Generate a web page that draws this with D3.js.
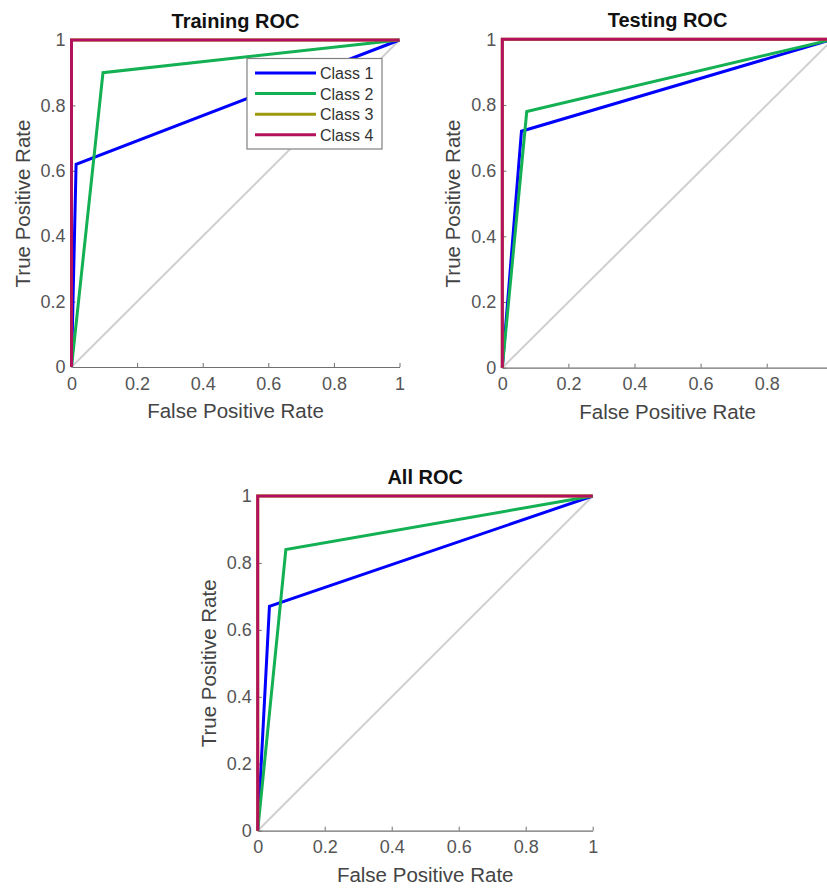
<!DOCTYPE html>
<html>
<head>
<meta charset="utf-8">
<script src="https://cdn.jsdelivr.net/npm/d3@7"></script>
<style>
  body { margin: 0; background: #fff; }
  svg { display: block; font-family: "Liberation Sans", Arial, sans-serif; }
</style>
</head>
<body>
<script>
// Class names and colours
const classNames = ["Class 1", "Class 2", "Class 3", "Class 4"];
const classColors = ["#0000ff", "#14b054", "#9e9a10", "#b3115c"];

// ROC points [FPR, TPR] per class
const trainingRoc = [
  [[0, 0], [0.014, 0.62], [1, 1]],
  [[0, 0], [0.096, 0.90], [1, 1]],
  [[0, 0], [0, 1], [1, 1]],
  [[0, 0], [0, 1], [1, 1]]
];
const testingRoc = [
  [[0, 0], [0.058, 0.72], [1, 1]],
  [[0, 0], [0.074, 0.78], [1, 1]],
  [[0, 0], [0, 1], [1, 1]],
  [[0, 0], [0, 1], [1, 1]]
];
const allRoc = [
  [[0, 0], [0.035, 0.67], [1, 1]],
  [[0, 0], [0.084, 0.84], [1, 1]],
  [[0, 0], [0, 1], [1, 1]],
  [[0, 0], [0, 1], [1, 1]]
];
const diagonal = [[0, 0], [1, 1]];
const tickValues = [0, 0.2, 0.4, 0.6, 0.8, 1];

const w = 827, h = 888;

const svg = d3.select("body").append("svg")
  .attr("width", w)
  .attr("height", h);

// panel placement in pixels
const panels = [
  {title: "Training ROC", data: trainingRoc, x: [71.5, 399.5], y: [367, 40], legend: true},
  {title: "Testing ROC", data: testingRoc, x: [502.3, 832.8], y: [367.7, 39.3], legend: false},
  {title: "All ROC", data: allRoc, x: [257.7, 592.7], y: [830.7, 496], legend: false}
];

const fmt = d => d === 0 || d === 1 ? String(d) : d.toFixed(1);

panels.forEach(p => {
  const xScale = d3.scaleLinear().domain([0, 1]).range(p.x);
  const yScale = d3.scaleLinear().domain([0, 1]).range(p.y);
  const g = svg.append("g");

  const line = d3.line()
    .x(d => xScale(d[0]))
    .y(d => yScale(d[1]));

  // axes (MATLAB style, ticks inward, box off)
  const xAxis = g.append("g")
    .attr("transform", `translate(0,${p.y[0]})`)
    .call(d3.axisBottom(xScale).tickValues(tickValues).tickFormat(fmt)
      .tickSize(-4).tickSizeOuter(0).tickPadding(10));
  const yAxis = g.append("g")
    .attr("transform", `translate(${p.x[0]},0)`)
    .call(d3.axisLeft(yScale).tickValues(tickValues).tickFormat(fmt)
      .tickSize(-4).tickSizeOuter(0).tickPadding(6));
  [xAxis, yAxis].forEach(a => {
    a.select(".domain").attr("stroke", "#707070").attr("stroke-width", 1.2);
    a.selectAll(".tick line").attr("stroke", "#707070");
    a.selectAll(".tick text")
      .attr("fill", "#555")
      .attr("font-size", 18)
      .attr("font-family", "Liberation Sans, Arial, sans-serif");
  });

  // diagonal reference
  g.append("path")
    .datum(diagonal)
    .attr("d", line)
    .attr("fill", "none")
    .attr("stroke", "#cfcfcf")
    .attr("stroke-width", 2);

  // class curves
  p.data.forEach((pts, i) => {
    g.append("path")
      .datum(pts)
      .attr("d", line)
      .attr("fill", "none")
      .attr("stroke", classColors[i])
      .attr("stroke-width", 3)
      .attr("stroke-linejoin", "miter");
  });

  // title
  const cx = (p.x[0] + p.x[1]) / 2;
  g.append("text")
    .attr("x", cx)
    .attr("y", p.y[1] - 12)
    .attr("text-anchor", "middle")
    .attr("font-size", 20)
    .attr("font-weight", "bold")
    .attr("fill", "#111")
    .text(p.title);

  // axis labels
  g.append("text")
    .attr("x", cx)
    .attr("y", p.y[0] + 51)
    .attr("text-anchor", "middle")
    .attr("font-size", 20.5)
    .attr("fill", "#444")
    .text("False Positive Rate");

  g.append("text")
    .attr("transform", `translate(${p.x[0] - 42},${(p.y[0] + p.y[1]) / 2}) rotate(-90)`)
    .attr("text-anchor", "middle")
    .attr("font-size", 20.5)
    .attr("fill", "#444")
    .text("True Positive Rate");

  if (p.legend) {
    const legend = g.append("g").attr("transform", "translate(247,58.5)");
    legend.append("rect")
      .attr("width", 135)
      .attr("height", 90.5)
      .attr("fill", "#fff")
      .attr("stroke", "#808080")
      .attr("stroke-width", 1.2);
    classNames.forEach((name, i) => {
      const yy = 14.5 + i * 20.6;
      legend.append("line")
        .attr("x1", 8).attr("x2", 69)
        .attr("y1", yy).attr("y2", yy)
        .attr("stroke", classColors[i])
        .attr("stroke-width", 3);
      legend.append("text")
        .attr("x", 73)
        .attr("y", yy + 6)
        .attr("font-size", 16)
        .attr("fill", "#333")
        .text(name);
    });
  }
});
</script>
</body>
</html>
